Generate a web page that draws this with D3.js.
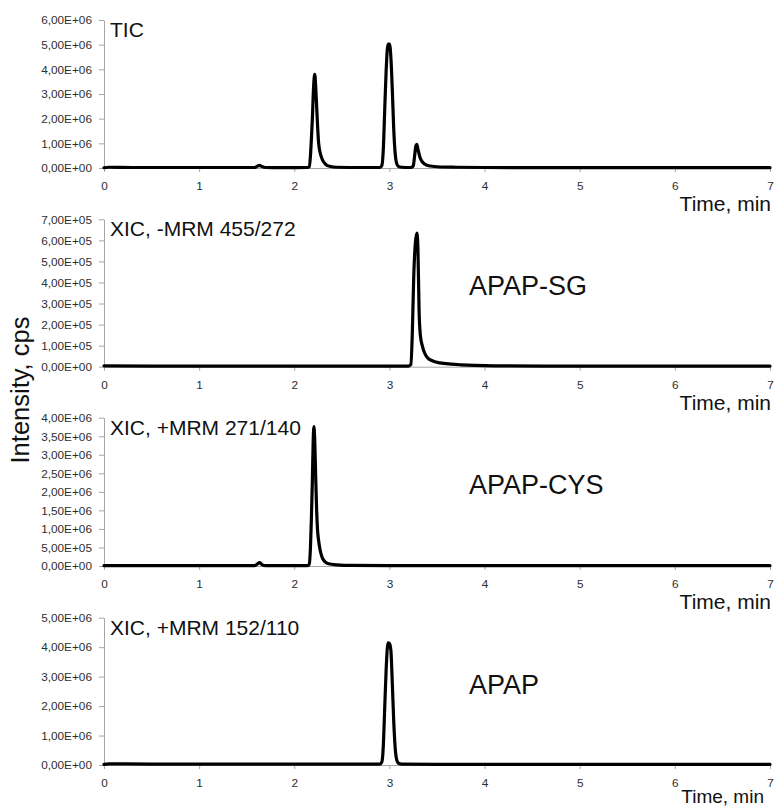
<!DOCTYPE html>
<html>
<head>
<meta charset="utf-8">
<script src="https://cdn.jsdelivr.net/npm/d3@7"></script>
<style>
  html, body { margin: 0; padding: 0; background: #fff; }
  svg { display: block; }
  text { font-family: "Liberation Sans", Arial, sans-serif; }
</style>
</head>
<body>
<svg id="chart" width="774" height="807"></svg>
<script>
// Retention times (min) and intensities (cps) for each trace
const ticTime = [0, 0.05, 0.3, 0.8, 1.2, 1.58, 1.61, 1.635, 1.66, 1.70, 2.0, 2.14, 2.157, 2.17, 2.18, 2.19, 2.203, 2.215, 2.225, 2.235, 2.245, 2.255, 2.265, 2.28, 2.30, 2.33, 2.37, 2.45, 2.7, 2.90, 2.92, 2.935, 2.95, 2.965, 2.985, 3.00, 3.015, 3.03, 3.045, 3.06, 3.075, 3.095, 3.13, 3.22, 3.25, 3.265, 3.278, 3.288, 3.30, 3.32, 3.34, 3.37, 3.41, 3.5, 3.7, 4.0, 5.0, 6.0, 7.0];
const ticIntensity = [0.01e6, 0.03e6, 0.02e6, 0.02e6, 0.02e6, 0.02e6, 0.07e6, 0.11e6, 0.06e6, 0.02e6, 0.015e6, 0.02e6, 0.05e6, 0.5e6, 1.2e6, 2.0e6, 3.3e6, 3.8e6, 3.3e6, 2.5e6, 1.7e6, 1.05e6, 0.75e6, 0.5e6, 0.3e6, 0.15e6, 0.07e6, 0.03e6, 0.02e6, 0.02e6, 0.1e6, 0.7e6, 2.3e6, 3.9e6, 5.02e6, 5.02e6, 4.5e6, 3.2e6, 1.6e6, 0.6e6, 0.2e6, 0.06e6, 0.03e6, 0.02e6, 0.08e6, 0.5e6, 0.9e6, 0.96e6, 0.75e6, 0.45e6, 0.28e6, 0.16e6, 0.09e6, 0.05e6, 0.03e6, 0.02e6, 0.015e6, 0.015e6, 0.015e6];

const sgTime = [0, 0.5, 1.5, 2.5, 3.0, 3.20, 3.225, 3.24, 3.255, 3.275, 3.29, 3.30, 3.312, 3.325, 3.345, 3.37, 3.40, 3.45, 3.53, 3.65, 3.75, 3.9, 4.1, 5.0, 6.0, 7.0];
const sgIntensity = [0.04e5, 0.03e5, 0.03e5, 0.03e5, 0.03e5, 0.03e5, 0.1e5, 1.5e5, 4.2e5, 6.0e5, 6.35e5, 5.5e5, 2.6e5, 1.5e5, 1.0e5, 0.65e5, 0.42e5, 0.28e5, 0.18e5, 0.12e5, 0.09e5, 0.06e5, 0.04e5, 0.03e5, 0.03e5, 0.03e5];

const cysTime = [0, 0.5, 1.0, 1.58, 1.61, 1.635, 1.66, 1.70, 2.0, 2.14, 2.157, 2.17, 2.18, 2.19, 2.198, 2.206, 2.215, 2.225, 2.235, 2.245, 2.255, 2.27, 2.29, 2.32, 2.36, 2.45, 2.6, 3.0, 4.0, 5.0, 6.0, 7.0];
const cysIntensity = [0.01e6, 0.01e6, 0.01e6, 0.01e6, 0.05e6, 0.09e6, 0.04e6, 0.01e6, 0.01e6, 0.01e6, 0.05e6, 0.5e6, 1.3e6, 2.3e6, 3.3e6, 3.76e6, 3.4e6, 2.4e6, 1.5e6, 0.95e6, 0.7e6, 0.45e6, 0.25e6, 0.12e6, 0.06e6, 0.03e6, 0.015e6, 0.01e6, 0.01e6, 0.01e6, 0.01e6, 0.01e6];

const apapTime = [0, 0.05, 0.5, 1.0, 2.0, 2.90, 2.92, 2.935, 2.95, 2.965, 2.985, 3.00, 3.015, 3.03, 3.045, 3.06, 3.075, 3.095, 3.13, 3.5, 4.0, 5.0, 6.0, 7.0];
const apapIntensity = [0.02e6, 0.04e6, 0.03e6, 0.03e6, 0.03e6, 0.03e6, 0.1e6, 0.6e6, 1.9e6, 3.2e6, 4.15e6, 4.12e6, 3.9e6, 2.8e6, 1.5e6, 0.6e6, 0.2e6, 0.06e6, 0.03e6, 0.02e6, 0.02e6, 0.02e6, 0.02e6, 0.02e6];

// Axis ticks
const timeTicks = [0, 1, 2, 3, 4, 5, 6, 7];
const ticYTicks = [0, 1e6, 2e6, 3e6, 4e6, 5e6, 6e6];
const sgYTicks = [0, 1e5, 2e5, 3e5, 4e5, 5e5, 6e5, 7e5];
const cysYTicks = [0, 5e5, 1e6, 1.5e6, 2e6, 2.5e6, 3e6, 3.5e6, 4e6];
const apapYTicks = [0, 1e6, 2e6, 3e6, 4e6, 5e6];

// Panel titles and compound labels
const traceTitles = ["TIC", "XIC, -MRM 455/272", "XIC, +MRM 271/140", "XIC, +MRM 152/110"];
const compoundLabels = ["", "APAP-SG", "APAP-CYS", "APAP"];
const xAxisTitle = "Time, min";
const yAxisTitle = "Intensity, cps";

// the bottom panel's axis title sits tight against the page edge
const panels = [
  { time: ticTime, values: ticIntensity, ticks: ticYTicks, top: 20, bottom: 168, titleDy: 43, titleSize: 21, titleX: 771 },
  { time: sgTime, values: sgIntensity, ticks: sgYTicks, top: 219.3, bottom: 366.7, titleDy: 43, titleSize: 21, titleX: 771 },
  { time: cysTime, values: cysIntensity, ticks: cysYTicks, top: 417.7, bottom: 566, titleDy: 43, titleSize: 21, titleX: 771 },
  { time: apapTime, values: apapIntensity, ticks: apapYTicks, top: 617.7, bottom: 765, titleDy: 38, titleSize: 19, titleX: 764 }
];

const svg = d3.select("#chart");
svg.append("rect").attr("width", 774).attr("height", 807).attr("fill", "#fff");

const x = d3.scaleLinear().domain([0, 7]).range([104, 770]);

// Scientific notation with a decimal comma, e.g. 3,50E+06
function sciComma(v) {
  if (v === 0) return "0,00E+00";
  const e = Math.floor(Math.log10(v) + 1e-9);
  const m = v / Math.pow(10, e);
  return m.toFixed(2).replace(".", ",") + "E+" + String(e).padStart(2, "0");
}

const axisColor = "#a6a6a6";
const labelColor = "#2e2e2e";

panels.forEach((p, i) => {
  const y = d3.scaleLinear()
    .domain([0, p.ticks[p.ticks.length - 1]])
    .range([p.bottom, p.top]);

  const g = svg.append("g");

  // y axis
  const ya = g.append("g")
    .attr("transform", `translate(${x(0)},0)`)
    .call(d3.axisLeft(y).tickValues(p.ticks).tickFormat(sciComma).tickSize(5).tickSizeOuter(0).tickPadding(7));
  ya.select(".domain").attr("stroke", axisColor);
  ya.selectAll(".tick line").attr("stroke", axisColor);
  ya.selectAll(".tick text")
    .attr("fill", labelColor)
    .style("font-size", "11.8px")
    .style("font-family", "'Liberation Sans', Arial, sans-serif");

  // x axis
  const xa = g.append("g")
    .attr("transform", `translate(0,${p.bottom})`)
    .call(d3.axisBottom(x).tickValues(timeTicks).tickFormat(d3.format("d")).tickSize(4).tickSizeOuter(0).tickPadding(10));
  xa.select(".domain").attr("stroke", axisColor);
  xa.selectAll(".tick line").attr("stroke", axisColor);
  xa.selectAll(".tick text")
    .attr("fill", labelColor)
    .style("font-size", "11.8px")
    .style("font-family", "'Liberation Sans', Arial, sans-serif");

  // trace
  const pts = p.time.map((t, k) => [t, p.values[k]]);
  g.append("path")
    .datum(pts)
    .attr("fill", "none")
    .attr("stroke", "#000")
    .attr("stroke-width", 3.2)
    .attr("stroke-linejoin", "round")
    .attr("stroke-linecap", "round")
    .attr("d", d3.line().x(d => x(d[0])).y(d => y(d[1])).curve(d3.curveMonotoneX));

  // trace title
  g.append("text")
    .attr("x", 110)
    .attr("y", p.top + 17)
    .attr("fill", "#111")
    .style("font-size", "21px")
    .text(traceTitles[i]);

  // compound label
  if (compoundLabels[i]) {
    g.append("text")
      .attr("x", 469)
      .attr("y", p.top + 76)
      .attr("fill", "#111")
      .style("font-size", "27px")
      .text(compoundLabels[i]);
  }

  // x axis title
  g.append("text")
    .attr("x", p.titleX)
    .attr("y", p.bottom + p.titleDy)
    .attr("text-anchor", "end")
    .attr("fill", "#111")
    .style("font-size", p.titleSize + "px")
    .text(xAxisTitle);
});

// shared y axis title
svg.append("text")
  .attr("transform", "translate(29,390) rotate(-90)")
  .attr("text-anchor", "middle")
  .attr("fill", "#111")
  .style("font-size", "25.5px")
  .text(yAxisTitle);
</script>
</body>
</html>
